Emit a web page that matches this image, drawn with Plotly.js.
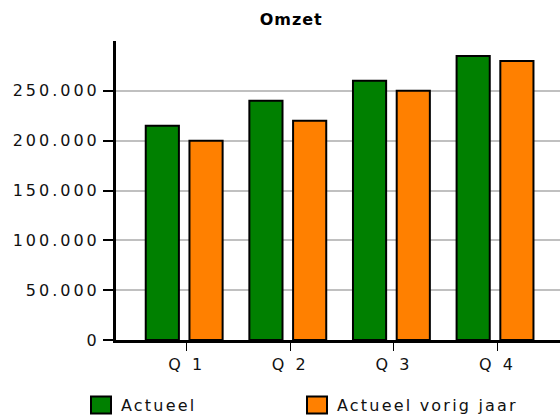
<!DOCTYPE html>
<html>
<head>
<meta charset="utf-8">
<script src="https://cdn.plot.ly/plotly-3.0.1.min.js"></script>
<style>
    html, body { margin: 0; padding: 0; background: #fff; }
    #chart { width: 560px; height: 419px; }
    .ytick text, .xtick text { letter-spacing: 3px; }
    .legendtext { letter-spacing: 2.2px; }
    .gtitle { letter-spacing: 1px; }
</style>
</head>
<body>
<div id="chart"></div>
<script>
// Kwartalen en omzet
const quarters = ['Q 1', 'Q 2', 'Q 3', 'Q 4'];
const actueel = [215000, 240000, 260000, 285000];
const vorigJaar = [200000, 220000, 250000, 280000];
const yTicks = [0, 50000, 100000, 150000, 200000, 250000];

const FONT = 'DejaVu Sans, Verdana, sans-serif';

const traceActueel = {
    x: quarters,
    y: actueel,
    type: 'bar',
    name: 'Actueel',
    width: 0.32,
    offset: -0.395,
    marker: { color: '#008000', line: { color: '#000', width: 2 } },
    hoverinfo: 'y'
};

const traceVorig = {
    x: quarters,
    y: vorigJaar,
    type: 'bar',
    name: 'Actueel vorig jaar',
    width: 0.32,
    offset: 0.027,
    marker: { color: '#ff8000', line: { color: '#000', width: 2 } },
    hoverinfo: 'y'
};

const layout = {
    width: 560,
    height: 419,
    margin: { l: 116, r: 0, t: 41, b: 79 },
    paper_bgcolor: '#fff',
    plot_bgcolor: '#fff',
    separators: ',.',
    barmode: 'overlay',
    font: { family: FONT, size: 16, color: '#111' },
    title: {
        text: '<b>Omzet</b>',
        font: { family: FONT, size: 16, color: '#000' },
        x: 0.52,
        xanchor: 'center',
        y: 0.953,
        yanchor: 'middle'
    },
    xaxis: {
        type: 'category',
        range: [-0.682, 3.603],
        showline: true,
        linecolor: '#000',
        linewidth: 3,
        ticks: 'outside',
        ticklen: 8,
        tickwidth: 1,
        tickcolor: '#000',
        showgrid: false,
        zeroline: false,
        tickfont: { family: FONT, size: 16, color: '#111' }
    },
    yaxis: {
        range: [0, 300000],
        tickvals: yTicks,
        tickformat: ',d',
        showline: true,
        linecolor: '#000',
        linewidth: 3,
        ticks: 'outside',
        ticklen: 10,
        tickwidth: 2,
        tickcolor: '#000',
        showgrid: true,
        gridcolor: '#c0c0c0',
        gridwidth: 2,
        zeroline: false,
        tickfont: { family: FONT, size: 16, color: '#111' }
    },
    showlegend: true,
    legend: {
        orientation: 'h',
        xref: 'container',
        yref: 'container',
        x: 81 / 560,
        xanchor: 'left',
        y: 1 - 405 / 419,
        yanchor: 'middle',
        entrywidth: 171,
        entrywidthmode: 'pixels',
        font: { family: FONT, size: 16, color: '#111' },
        bgcolor: 'rgba(0,0,0,0)'
    }
};

Plotly.newPlot('chart', [traceActueel, traceVorig], layout, { staticPlot: true }).then(function (gd) {
    // grotere legendablokjes zoals in het origineel
    gd.querySelectorAll('.legendpoints path').forEach(function (p) {
        p.setAttribute('d', 'M10,8.5H-10V-8.5H10Z');
    });
    // laatste legendatekst niet afknippen
    gd.querySelectorAll('.legend .scrollbox, .legend').forEach(function (el) {
        el.removeAttribute('clip-path');
    });
});
</script>
</body>
</html>
